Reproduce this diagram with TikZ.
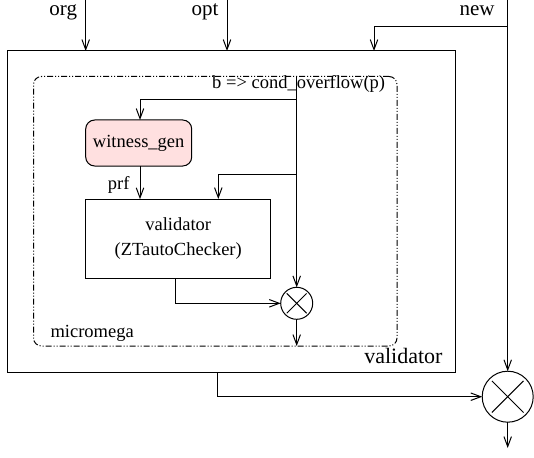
\documentclass[tikz,border=0pt]{standalone}
\usepackage{fontspec}
\setmainfont{Liberation Serif}
\usetikzlibrary{arrows.meta,calc}
\definecolor{wgpink}{RGB}{255,224,224}
\tikzset{
  arr/.style={-{Straight Barb[length=10pt,width=7.5pt]}},
  box/.style={draw, inner sep=0pt, outer sep=0pt},
  big/.style={font=\fontsize{21}{24}\selectfont},
  small/.style={font=\fontsize{18.5}{25}\selectfont},
  xcirc/.style={draw, circle, inner sep=0pt, outer sep=0pt,
    path picture={
      \draw ($(path picture bounding box.north west)!0.19!(path picture bounding box.south east)$)
         -- ($(path picture bounding box.north west)!0.81!(path picture bounding box.south east)$);
      \draw ($(path picture bounding box.north east)!0.19!(path picture bounding box.south west)$)
         -- ($(path picture bounding box.north east)!0.81!(path picture bounding box.south west)$);
    }},
  ddot/.style={dash pattern=on 6pt off 2pt on 1pt off 2pt on 1pt off 2pt}
}
\begin{document}
\begin{tikzpicture}[x=1pt,y=-1pt,line width=1pt]
\useasboundingbox (0,0) rectangle (534,457);
% boxes
\node[box, minimum width=448pt, minimum height=321pt] (outer) at (231,211.5) {};
\node[box, ddot, rounded corners=8pt, minimum width=363.5pt, minimum height=269.5pt] (inner) at (215.25,211.25) {};
\node[box, rounded corners=9pt, fill=wgpink, minimum width=106pt, minimum height=46pt, small] (wg) at (138.7,143) {witness\_gen};
\node[box, minimum width=185pt, minimum height=79pt, small, align=center] (val) at (178.2,238.7) {validator\\(ZTautoChecker)};
\node[xcirc, minimum size=32pt] (sc) at (296.7,303.3) {};
\node[xcirc, minimum size=51pt] (bc) at (507.7,396.7) {};
% labels
\node[big, anchor=base east, inner sep=0pt] (lorg) at (77.5,16) {org};
\node[big, anchor=base east, inner sep=0pt] (lopt) at (219,16) {opt};
\node[big, anchor=base east, inner sep=0pt] (lnew) at (495,16) {new};
\node[small, anchor=base west, inner sep=0pt] (lcond) at (211.7,89) {b => cond\_overflow(p)};
\node[small, anchor=base west, inner sep=0pt] (lmic) at (50,337) {micromega};
\node[font=\fontsize{22}{24}\selectfont, anchor=base east, inner sep=0pt] (lval) at (443,363) {validator};
\node[small, anchor=base east, inner sep=0pt] (lprf) at (130,189) {prf};
% coordinates
\coordinate (orgtop) at (85.7,0);
\coordinate (opttop) at (227,0);
\coordinate (newtop) at (507.7,0);
\coordinate (nb) at (507.7,27);
\coordinate (nbx) at (374,27);
\coordinate (br1) at (296.7,100);
\coordinate (br2) at (296.7,174.3);
\coordinate (wgin) at (140,120);
\coordinate (wgout) at (140,166);
\coordinate (v2) at (218.3,199);
\coordinate (vout) at (175.7,278.7);
\coordinate (osrc) at (217.7,372);
\coordinate (oend) at (507.7,448);
% connectors
\draw[arr] (orgtop) -- (orgtop |- outer.north);
\draw[arr] (opttop) -- (opttop |- outer.north);
\draw[arr] (newtop) -- (bc.north);
\draw[arr] (nb) -- (nbx) -- (nbx |- outer.north);
\draw[arr] (sc.north |- inner.north) -- (sc.north);
\draw[arr] (br1) -| (wgin);
\draw[arr] (br2) -| (v2);
\draw[arr] (wgout) -- (wgout |- val.north);
\draw[arr] (vout) |- (sc.west);
\draw[arr] (sc.south) -- (sc.south |- inner.south);
\draw[arr] (osrc) |- (bc.west);
\draw[arr] (bc.south) -- (oend);
\end{tikzpicture}
\end{document}
